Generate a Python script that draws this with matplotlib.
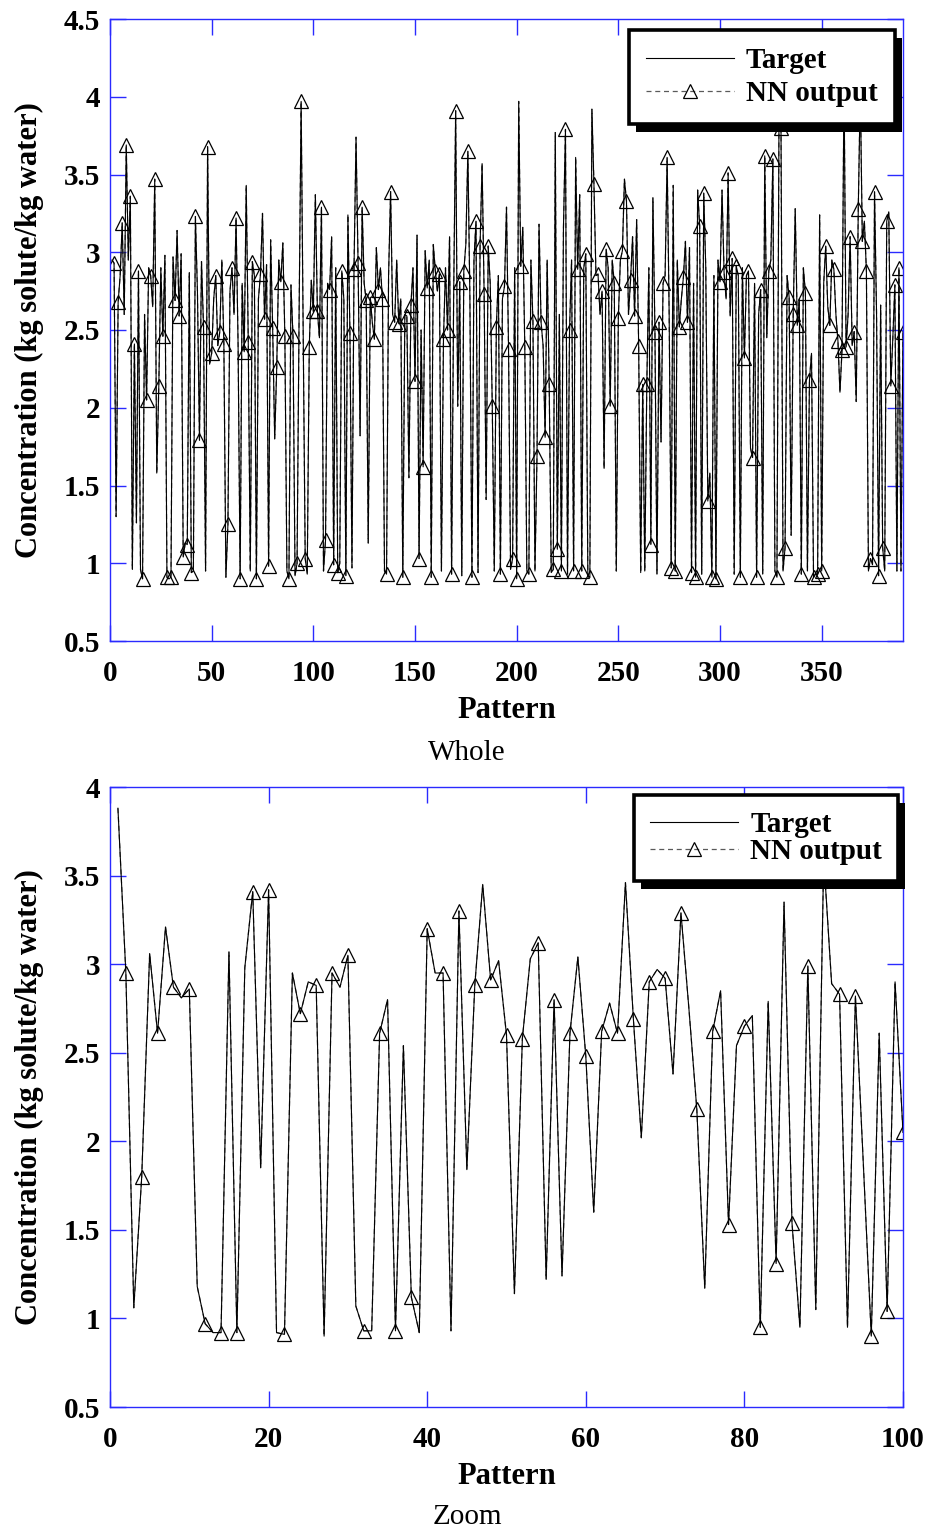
import matplotlib
matplotlib.use("Agg")
import matplotlib.pyplot as plt
from matplotlib.patches import Rectangle
from matplotlib.transforms import IdentityTransform
import numpy as np

# ---------------- data ----------------
target_whole = [
    2.95, 2.93, 1.30, 2.68, 2.85, 3.19, 2.60, 3.69, 2.95, 3.36,
    0.96, 2.41, 1.26, 2.88, 0.96, 0.90, 2.60, 2.05, 2.90, 2.85,
    2.65, 3.47, 1.58, 2.14, 2.90, 2.46, 2.98, 0.91, 0.90, 0.91,
    2.97, 2.69, 3.14, 2.59, 2.99, 1.04, 1.13, 1.12, 2.87, 0.94,
    0.95, 3.23, 2.75, 1.79, 2.94, 2.52, 0.95, 3.68, 2.28, 2.35,
    2.70, 2.85, 2.40, 2.49, 2.95, 2.41, 0.91, 1.25, 2.75, 2.90,
    2.60, 3.22, 2.40, 0.90, 2.80, 2.36, 3.43, 2.42, 0.95, 2.94,
    2.85, 0.90, 2.70, 2.86, 3.25, 2.57, 2.92, 0.98, 3.08, 2.51,
    1.80, 2.26, 2.95, 2.81, 3.06, 2.46, 0.95, 0.90, 2.79, 2.46,
    0.92, 1.00, 2.60, 3.97, 2.50, 1.03, 0.93, 2.39, 2.82, 2.62,
    3.37, 2.62, 2.45, 3.29, 0.95, 1.15, 2.80, 2.76, 3.10, 0.99,
    2.90, 0.94, 1.00, 2.88, 2.70, 0.92, 3.24, 2.48, 0.97, 2.89,
    3.74, 2.93, 1.82, 3.29, 2.80, 2.69, 1.13, 2.71, 2.55, 2.44,
    3.03, 2.76, 2.90, 2.70, 0.95, 0.93, 2.85, 3.39, 2.60, 2.55,
    2.95, 2.54, 2.70, 0.91, 2.60, 2.59, 1.55, 2.66, 2.90, 2.17,
    3.11, 1.03, 2.50, 1.62, 3.01, 2.77, 2.95, 0.91, 3.05, 2.88,
    2.75, 2.86, 0.95, 2.44, 2.90, 2.50, 3.10, 0.93, 2.70, 3.91,
    2.01, 2.81, 0.92, 2.88, 3.05, 3.65, 2.70, 0.91, 2.95, 3.20,
    0.94, 3.04, 3.57, 2.73, 1.41, 3.04, 2.80, 2.01, 0.95, 2.52,
    2.85, 0.93, 2.70, 2.78, 3.29, 2.38, 0.96, 1.03, 2.90, 0.90,
    3.97, 2.91, 3.16, 2.39, 0.95, 0.93, 2.95, 2.56, 0.95, 1.69,
    3.18, 2.55, 2.40, 1.81, 2.95, 2.15, 0.94, 0.96, 3.77, 1.09,
    2.60, 0.95, 3.15, 3.79, 0.93, 2.50, 2.95, 0.95, 3.61, 2.89,
    3.37, 0.95, 2.90, 2.99, 0.92, 0.91, 3.92, 3.44, 2.85, 2.86,
    2.60, 2.75, 1.61, 3.02, 2.90, 2.01, 2.95, 2.80, 0.95, 2.58,
    2.95, 3.01, 3.47, 3.33, 2.60, 2.82, 3.10, 2.59, 3.21, 2.40,
    0.94, 2.15, 0.95, 2.15, 2.90, 1.12, 3.35, 2.49, 0.93, 2.55,
    1.78, 2.80, 2.85, 3.61, 2.60, 0.97, 3.43, 0.95, 2.95, 2.52,
    2.70, 2.84, 3.07, 2.55, 3.03, 0.94, 2.80, 0.91, 3.40, 3.17,
    0.93, 3.38, 2.90, 1.40, 1.58, 0.91, 2.85, 0.90, 2.95, 2.81,
    3.40, 2.87, 2.70, 3.51, 2.59, 2.96, 0.93, 2.91, 2.85, 0.91,
    2.90, 2.32, 2.85, 2.88, 1.74, 1.68, 2.80, 0.91, 2.60, 2.76,
    0.93, 3.62, 2.45, 2.88, 2.95, 3.60, 0.95, 0.91, 3.82, 3.80,
    0.95, 1.10, 2.85, 2.71, 1.18, 2.60, 3.28, 2.53, 2.70, 0.93,
    2.90, 2.74, 0.95, 2.18, 2.35, 0.91, 0.93, 0.93, 3.24, 0.95,
    2.80, 3.04, 2.65, 2.53, 2.95, 2.89, 2.60, 2.43, 2.10, 2.37,
    4.10, 2.39, 2.60, 3.10, 2.40, 2.49, 2.04, 3.28, 4.05, 3.07,
    3.20, 2.88, 0.95, 1.03, 0.99, 3.39, 2.60, 0.92, 2.66, 1.10,
    0.95, 3.20, 3.26, 2.14, 2.45, 2.79, 0.95, 2.90, 0.95, 2.49,
]
# the network output lies on top of the target everywhere in the picture
nn_output_whole = list(target_whole)

target_zoom = [
    3.88, 2.95, 1.06, 1.80, 3.06, 2.61, 3.21, 2.87, 2.81, 2.86,
    1.18, 0.97, 0.92, 0.92, 3.07, 0.92, 2.98, 3.41, 1.85, 3.42,
    0.92, 0.91, 2.95, 2.72, 2.90, 2.88, 0.90, 2.95, 2.87, 3.05,
    1.07, 0.93, 0.93, 2.61, 2.80, 0.93, 2.54, 1.12, 0.92, 3.20,
    2.95, 2.95, 0.93, 3.30, 1.84, 2.88, 3.45, 2.91, 3.02, 2.60,
    1.14, 2.58, 3.03, 3.12, 1.22, 2.80, 1.24, 2.61, 3.04, 2.48,
    1.60, 2.62, 2.78, 2.61, 3.46, 2.69, 2.02, 2.90, 2.97, 2.92,
    2.38, 3.29, 2.75, 2.18, 1.17, 2.62, 2.85, 1.53, 2.54, 2.65,
    2.71, 0.95, 2.79, 1.31, 3.35, 1.54, 0.95, 2.99, 1.05, 3.60,
    2.89, 2.83, 0.95, 2.82, 1.87, 0.90, 2.61, 1.04, 2.90, 2.05,
]
nn_output_zoom = list(target_zoom)

whole_xticks = [0, 50, 100, 150, 200, 250, 300, 350]
whole_yticks = [0.5, 1, 1.5, 2, 2.5, 3, 3.5, 4, 4.5]
whole_yticklabels = ["0.5", "1", "1.5", "2", "2.5", "3", "3.5", "4", "4.5"]
zoom_xticks = [0, 20, 40, 60, 80, 100]
zoom_yticks = [0.5, 1, 1.5, 2, 2.5, 3, 3.5, 4]
zoom_yticklabels = ["0.5", "1", "1.5", "2", "2.5", "3", "3.5", "4"]

series_labels = ["Target", "NN output"]
xlabel = "Pattern"
ylabel = "Concentration (kg solute/kg water)"
panel_titles = ["Whole", "Zoom"]

# ---------------- style ----------------
plt.rcParams["font.family"] = ["Liberation Serif", "DejaVu Serif"]
plt.rcParams["font.weight"] = "bold"

BLUE = "#2a2aff"
FS_TICK = 21
FS_LABEL = 22
FS_LEG = 21
FS_TITLE = 21

fig = plt.figure(figsize=(9.3, 15.35), dpi=100)
W, H = 930.0, 1535.0


def make_axes(left, top, right, bottom):
    return fig.add_axes([left / W, 1 - bottom / H, (right - left) / W, (bottom - top) / H])


ax1 = make_axes(110, 19, 903, 641)
ax2 = make_axes(110, 787, 903, 1407)


def draw_panel(ax, target, nn, xlim, xticks, ylim, yticks, yticklabels,
               leg_right, leg_top, leg_spacing, leg_pad):
    x = np.arange(1, len(target) + 1)
    ax.plot(x, nn, color="#5a5a5a", lw=0.9, ls=(0, (4, 3)), marker="^", ms=10.5,
            mfc="none", mec="black", mew=0.9, markevery=(1, 2),
            label=series_labels[1], zorder=2)
    ax.plot(x, target, color="black", lw=0.8, label=series_labels[0], zorder=3)

    ax.set_xlim(*xlim)
    ax.set_ylim(*ylim)
    ax.set_xticks(xticks)
    ax.set_xticklabels([str(t) for t in xticks])
    ax.set_yticks(yticks)
    ax.set_yticklabels(yticklabels)
    ax.tick_params(axis="both", direction="in", length=11.5, width=1.0, color=BLUE,
                   top=True, right=True, labelsize=FS_TICK)
    ax.tick_params(axis="x", pad=14)
    ax.tick_params(axis="y", pad=7)
    for sp in ax.spines.values():
        sp.set_color(BLUE)
        sp.set_linewidth(1.0)

    ax.set_xlabel(xlabel, fontsize=FS_LABEL, fontweight="bold")
    ax.set_ylabel(ylabel, fontsize=FS_LABEL, fontweight="bold")
    ax.xaxis.set_label_coords(0.5, -0.088)
    ax.yaxis.set_label_coords(-0.083, 0.5)

    h, l = ax.get_legend_handles_labels()
    order = [l.index(series_labels[0]), l.index(series_labels[1])]
    axw = ax.get_position().width * W
    axh = ax.get_position().height * H
    leg = ax.legend([h[i] for i in order], [l[i] for i in order],
                    loc="upper right",
                    bbox_to_anchor=(1 - leg_right / axw, 1 - leg_top / axh),
                    borderaxespad=0.0, fontsize=FS_LEG, numpoints=1,
                    handlelength=3.0, handletextpad=0.42,
                    labelspacing=leg_spacing, borderpad=leg_pad,
                    fancybox=False, framealpha=1.0, edgecolor="black")
    leg.get_frame().set_linewidth(2.6)
    leg.set_zorder(6)
    return leg


leg1 = draw_panel(ax1, target_whole, nn_output_whole, (0, 390), whole_xticks,
                  (0.5, 4.5), whole_yticks, whole_yticklabels, 8, 11, 0.18, 0.6)
leg2 = draw_panel(ax2, target_zoom, nn_output_zoom, (0, 100), zoom_xticks,
                  (0.5, 4.0), zoom_yticks, zoom_yticklabels, 5, 8, 0.0, 0.55)

fig.text(467 / W, 1 - 753 / H, panel_titles[0], ha="center", va="center",
         fontsize=FS_TITLE, fontweight="normal")
fig.text(467 / W, 1 - 1517 / H, panel_titles[1], ha="center", va="center",
         fontsize=FS_TITLE, fontweight="normal")

# black drop shadow behind each legend box
fig.canvas.draw()
for ax, leg in ((ax1, leg1), (ax2, leg2)):
    bb = leg.get_frame().get_window_extent()
    shadow = Rectangle((bb.x0 + 7, bb.y0 - 8), bb.width, bb.height,
                       transform=IdentityTransform(), facecolor="black",
                       edgecolor="none", zorder=5.5, clip_on=False)
    ax.add_artist(shadow)

fig.savefig("out.png", dpi=100)
